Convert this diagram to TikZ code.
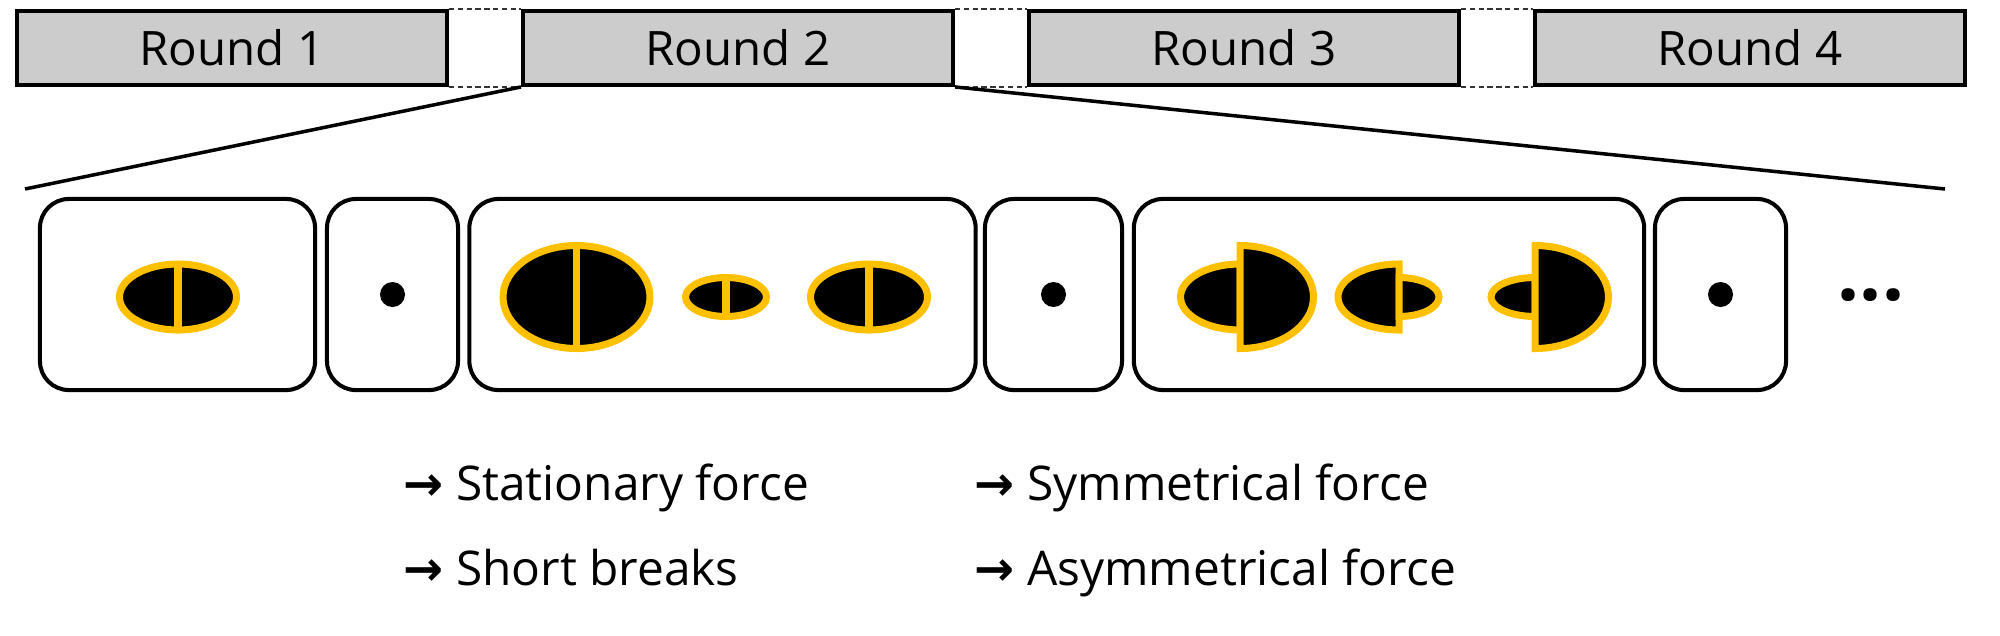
\documentclass[tikz,border=0pt]{standalone}
\usepackage{fontspec}
\setmainfont{Open Sans}
\newfontfamily\arrowfont{DejaVu Sans}
\definecolor{roundgray}{RGB}{204,204,204}
\definecolor{gold}{RGB}{255,192,0}
\tikzset{
  roundbox/.style={draw, line width=1.1pt, fill=roundgray, minimum width=4.3cm,
    minimum height=0.74cm, inner sep=0pt, font=\fontsize{13.5}{16}\selectfont},
  phasebox/.style={draw, line width=1.15pt, rounded corners=0.29cm,
    minimum height=1.91cm, inner sep=0pt},
  gapline/.style={dash pattern=on 1.5pt off 1pt, line width=0.45pt, black!80},
  zoomline/.style={line width=1pt},
  egg/.style={fill=black, draw=gold, line width=2pt},
  eggsplit/.style={draw=gold, line width=2pt},
  cue/.style={anchor=base west, inner sep=0pt, font=\fontsize{13.6}{16}\selectfont},
}
% whole bean: x, x radius, y radius
\newcommand{\bean}[3]{%
  \filldraw[egg] (#1,338) ellipse [x radius=#2, y radius=#3];
  \draw[eggsplit] (#1,338-#3) -- (#1,338+#3);}
% two halves: divider x, left radii, right radii
\newcommand{\halfbean}[5]{%
  \filldraw[egg] (#1,338+#3) arc [start angle=90, end angle=270, x radius=#2, y radius=#3] -- cycle;
  \filldraw[egg] (#1,338-#5) arc [start angle=-90, end angle=90, x radius=#4, y radius=#5] -- cycle;}
\newcommand{\cuearrow}{{\arrowfont\bfseries →}}
\begin{document}
\begin{tikzpicture}[x=0.01cm, y=0.01cm]
  \useasboundingbox (0,0) rectangle (2000,635);
  \node[roundbox] (r1) at (232,587) {Round 1};
  \node[roundbox] (r2) at (738,587) {Round 2};
  \node[roundbox] (r3) at (1244,587) {Round 3};
  \node[roundbox] (r4) at (1750,587) {Round 4};
  \draw[gapline] (r1.north east) -- (r2.north west);
  \draw[gapline] (r1.south east) -- (r2.south west);
  \draw[gapline] (r2.north east) -- (r3.north west);
  \draw[gapline] (r2.south east) -- (r3.south west);
  \draw[gapline] (r3.north east) -- (r4.north west);
  \draw[gapline] (r3.south east) -- (r4.south west);
  \coordinate (zl) at (25,446);
  \coordinate (zr) at (1945,446);
  \draw[zoomline] (r2.south west) -- (zl);
  \draw[zoomline] (r2.south east) -- (zr);

  \node[phasebox, minimum width=2.75cm] (p1) at (177.5,340.5) {};
  \node[phasebox, minimum width=1.31cm] (p2) at (392.5,340.5) {};
  \node[phasebox, minimum width=5.06cm] (p3) at (722.5,340.5) {};
  \node[phasebox, minimum width=1.37cm] (p4) at (1053.5,340.5) {};
  \node[phasebox, minimum width=5.10cm] (p5) at (1389,340.5) {};
  \node[phasebox, minimum width=1.31cm] (p6) at (1720.5,340.5) {};

  \bean{178}{58.5}{33}
  \fill (p2) circle [radius=12.5];
  \bean{576.5}{73.5}{51.5}
  \bean{726}{40.5}{19.5}
  \bean{869}{58.5}{33}
  \fill (p4) circle [radius=12.5];
  \halfbean{1240}{59.5}{33}{73.5}{51.5}
  \halfbean{1399}{61}{33}{40}{19.5}
  \halfbean{1535}{44}{19.5}{73.5}{51.5}
  \fill (p6) circle [radius=12.5];
  \node[font=\fontsize{22}{22}\selectfont\bfseries] (more) at (1871,340) {...};

  \node[cue] (c1) at (403,135) {\cuearrow{} Stationary force};
  \node[cue] (c2) at (403,50) {\cuearrow{} Short breaks};
  \node[cue] (c3) at (974,135) {\cuearrow{} Symmetrical force};
  \node[cue] (c4) at (974,50) {\cuearrow{} Asymmetrical force};
\end{tikzpicture}
\end{document}
